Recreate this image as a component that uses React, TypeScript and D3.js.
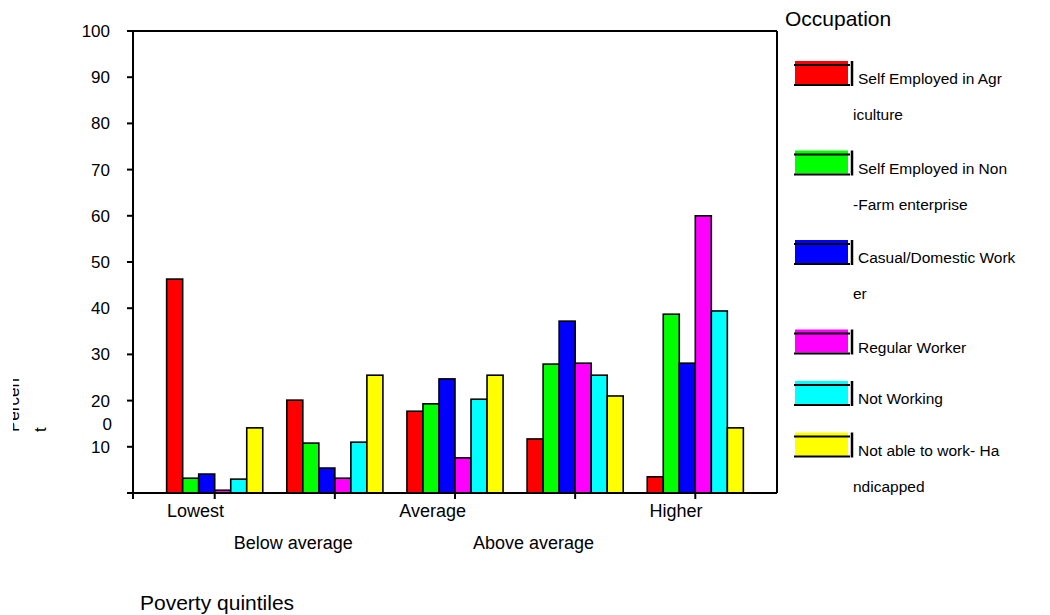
import React from "react";
import * as d3 from "d3";

const categories = ["Lowest", "Below average", "Average", "Above average", "Higher"];

const selfEmployedAgriculture = [46.3, 20.1, 17.7, 11.7, 3.5];
const selfEmployedNonFarm = [3.2, 10.8, 19.3, 27.9, 38.7];
const casualDomestic = [4.1, 5.4, 24.7, 37.2, 28.1];
const regularWorker = [0.6, 3.2, 7.6, 28.1, 60.0];
const notWorking = [3.0, 11.0, 20.3, 25.5, 39.4];
const notAbleHandicapped = [14.1, 25.5, 25.5, 21.0, 14.1];

const seriesValues = [
  selfEmployedAgriculture,
  selfEmployedNonFarm,
  casualDomestic,
  regularWorker,
  notWorking,
  notAbleHandicapped,
];

const legendLines = [
  ["Self Employed in Agr", "iculture"],
  ["Self Employed in Non", "-Farm enterprise"],
  ["Casual/Domestic Work", "er"],
  ["Regular Worker"],
  ["Not Working"],
  ["Not able to work- Ha", "ndicapped"],
];

const seriesColors = ["#ff0000", "#00ff00", "#0000ff", "#ff00ff", "#00ffff", "#ffff00"];

const yTickValues = [10, 20, 30, 40, 50, 60, 70, 80, 90, 100];

const FONT = "'Liberation Sans', Arial, sans-serif";

export default function App() {
  const left = 133, right = 777, top = 31, bottom = 493;
  const x0 = d3.scaleBand<string>().domain(categories).range([left, right]).paddingInner(0.2).paddingOuter(0.28);
  const x1 = d3.scaleBand<number>().domain(d3.range(seriesValues.length)).range([0, x0.bandwidth()]).padding(0);
  const y = d3.scaleLinear().domain([0, 100]).range([bottom, top]);

  // legend layout
  let ly = 61;
  const legendItems = legendLines.map((lines, i) => {
    const item = { lines, color: seriesColors[i], y: ly };
    ly += lines.length === 2 ? 89.5 : 51.5;
    return item;
  });

  return (
    <svg width={1050} height={615} style={{ position: "absolute", left: 0, top: 0, background: "#fff" }} fontFamily={FONT}>
      <defs>
        <clipPath id="pclip">
          <rect x={13} y={300} width={100} height={200} />
        </clipPath>
      </defs>
      {/* bars */}
      {categories.map((c, gi) => (
        <g key={c} transform={`translate(${x0(c)},0)`}>
          {seriesValues.map((vals, si) => (
            <rect
              key={si}
              x={x1(si)}
              y={y(vals[gi])}
              width={x1.bandwidth()}
              height={bottom - y(vals[gi])}
              fill={seriesColors[si]}
              stroke="#000"
              strokeWidth={1.6}
            />
          ))}
        </g>
      ))}
      {/* frame */}
      <line x1={left} x2={left} y1={top} y2={bottom} stroke="#000" strokeWidth={2} />
      <line x1={left - 6} x2={right} y1={top} y2={top} stroke="#000" strokeWidth={2} />
      <line x1={right} x2={right} y1={top} y2={bottom} stroke="#000" strokeWidth={2} />
      <line x1={left - 6} x2={right} y1={bottom} y2={bottom} stroke="#000" strokeWidth={2} />
      {/* y ticks */}
      {yTickValues.map((v) => (
        <g key={v}>
          <line x1={left - 6} x2={left} y1={y(v)} y2={y(v)} stroke="#000" strokeWidth={2} />
          <text x={110} y={y(v)} dy="0.35em" textAnchor="end" fontSize={17} fill="#000">{v}</text>
        </g>
      ))}
      <text x={112} y={424} dy="0.35em" textAnchor="end" fontSize={17} fill="#000">0</text>
      {/* x ticks */}
      <line x1={left} x2={left} y1={bottom} y2={bottom + 6} stroke="#000" strokeWidth={2} />
      {categories.map((c, i) => {
        const cx = (x0(c) as number) + x0.bandwidth() / 2;
        return (
          <g key={c}>
            <line x1={cx} x2={cx} y1={bottom} y2={bottom + 6} stroke="#000" strokeWidth={2} />
            <text x={cx - 3.2 * c.length} y={i % 2 === 0 ? 517 : 549} textAnchor="middle" fontSize={18} fill="#000">{c}</text>
          </g>
        );
      })}
      {/* axis titles */}
      <text x={140} y={610} fontSize={21} fill="#000">Poverty quintiles</text>
      <g clipPath="url(#pclip)">
        <text transform="translate(19,432) rotate(-90)" fontSize={17} fill="#000">Percen</text>
      </g>
      <text transform="translate(46,432) rotate(-90)" fontSize={17} fill="#000">t</text>
      {/* legend */}
      <text x={785} y={26} fontSize={21} fill="#000">Occupation</text>
      {legendItems.map((it, i) => (
        <g key={i}>
          <rect x={795} y={it.y} width={53} height={23} fill={it.color} />
          <line x1={794} x2={850} y1={it.y + 4} y2={it.y + 4} stroke="#000" strokeWidth={2} />
          <line x1={794} x2={850} y1={it.y + 24} y2={it.y + 24} stroke="#000" strokeWidth={2} />
          <line x1={852} x2={852} y1={it.y} y2={it.y + 25} stroke="#000" strokeWidth={2.5} />
          <text x={858} y={it.y + 18} dy="0.35em" fontSize={15.5} fill="#000">{it.lines[0]}</text>
          {it.lines[1] && (
            <text x={853} y={it.y + 54} dy="0.35em" fontSize={15.5} fill="#000">{it.lines[1]}</text>
          )}
        </g>
      ))}
    </svg>
  );
}
